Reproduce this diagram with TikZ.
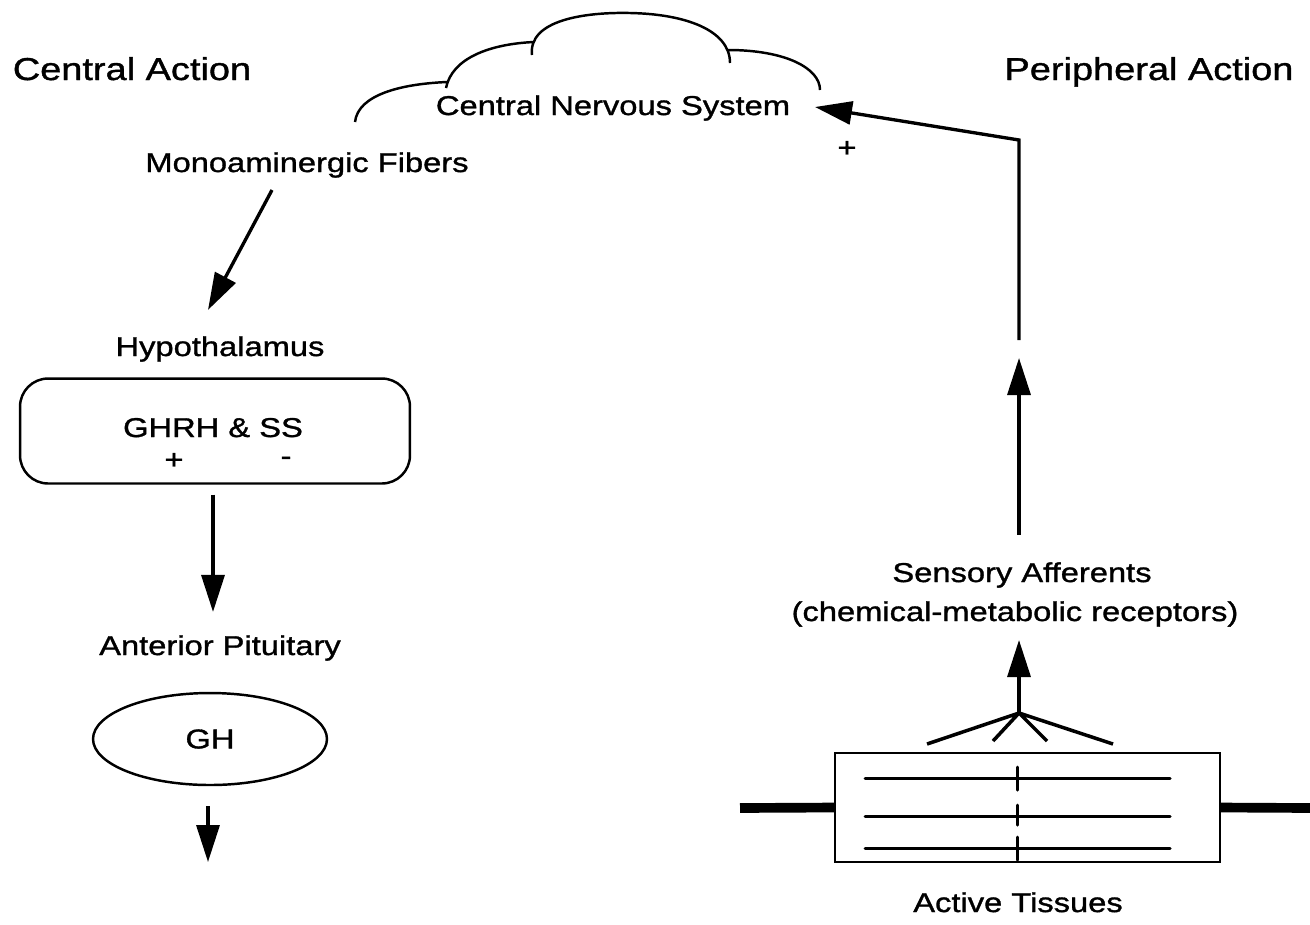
\documentclass[tikz,border=0pt]{standalone}
\usepackage{fontspec}
\setmainfont{Liberation Sans}[FakeStretch=1.2, FakeBold=1.2]
\usepackage{tikz}
\usetikzlibrary{
  arrows.meta,
  positioning,
  shapes.geometric
}
\tikzset{
    heading/.style={font=\fontsize{18}{21}\selectfont, inner sep=0pt},
    txt/.style={font=\fontsize{15.5}{18}\selectfont, inner sep=0pt},
    arr/.style={line width=1.9pt, -{Triangle[length=0.74cm, width=0.46cm]}},
    thinline/.style={line width=1.4pt},
    fibre/.style={line width=1.7pt, line cap=round},
}

\begin{document}
\begin{tikzpicture}[x=0.02cm, y=-0.02cm]
            \useasboundingbox (0,0) rectangle (1310,924);

            % titles of the two halves
            \node[heading, anchor=base] (central) at (132,80) {Central Action};
            \node[heading, anchor=base] (peripheral) at (1149,80) {Peripheral Action};

            % brain cloud
            \draw[thinline] (355,122) .. controls (358,95) and (400,84) .. (447,82)
                (446,88) .. controls (452,58) and (490,44) .. (534,42)
                (532,55) .. controls (528,20) and (585,12) .. (630,13)
                    .. controls (685,14) and (730,30) .. (730,63)
                (728,50) .. controls (785,50) and (820,68) .. (820,90);
            \node[txt, anchor=base] (cns) at (613,115) {Central Nervous System};

            % central pathway
            \node[txt, anchor=base] (fibers) at (307,172) {Monoaminergic Fibers};
            \node[txt, anchor=base] (hypo) at (220,356) {Hypothalamus};
            \node[draw, thinline, rounded corners=16pt, minimum width=7.8cm, minimum height=2.1cm] (ghrh) at (215,431) {};
            \node[txt, anchor=base] (ghrhtxt) at (213,437) {GHRH \& SS};
            \node[txt] (plus) at (174,461) {+};
            \node[txt] (minus) at (286,461) {-};
            \node[txt, anchor=base] (pit) at (220,655) {Anterior Pituitary};
            \node[draw, thinline, ellipse, minimum width=4.68cm, minimum height=1.84cm, txt] (gh) at (210,739) {GH};
            \coordinate (ghend) at (208,862);

            \draw[arr] ([xshift=-0.7cm, yshift=-0.24cm]fibers.south) -- ([xshift=-0.24cm, yshift=0.52cm]hypo.north);
            \draw[arr, shorten <=0.2cm, shorten >=0.46cm] (ghrh.south -| ghrhtxt) -- (pit.north -| ghrhtxt);
            \draw[arr, shorten <=0.4cm] (gh.south -| ghend) -- (ghend);

            % peripheral pathway
            \node[txt, anchor=base] (aff) at (1022,582) {Sensory Afferents};
            \node[txt, anchor=base] (rec) at (1015,621) {(chemical-metabolic receptors)};
            \coordinate (apex) at (1019,713);
            \coordinate (gap) at (1019,358);
            \coordinate (gaptop) at (1019,340);
            \coordinate (corner) at (1019,140);
            \coordinate (cnsin) at (815,107);
            \node[txt] (cnsplus) at (847,149) {+};

            \draw[arr, shorten >=0.26cm] (apex) -- (rec.south -| apex);
            \draw[arr, shorten <=0.54cm] (aff.north -| apex) -- (gap);
            \draw[arr, line join=miter] (gaptop) -- (corner) -- (cnsin);

            % muscle with its receptor endings
            \node[draw, thinline, minimum width=7.7cm, minimum height=2.18cm] (muscle) at (1027.5,807.5) {};
            \draw[line width=5.5pt] (740,808) -- (muscle.west);
            \draw[line width=5.5pt] (muscle.east) -- (1310,808);
            \foreach \y in {778,816,848}
                \draw[fibre] (865,\y) -- (1170,\y);
            \draw[fibre] (1017,767) -- (1017,790)
                (1017,805) -- (1017,825)
                (1017,837) -- (1017,860);
            \draw[line width=2pt] (927,744) -- (apex) -- (1113,744)
                (993,741) -- (apex) -- (1047,741);
            \node[txt, anchor=base] (tissues) at (1018,912) {Active Tissues};
        \end{tikzpicture}
\end{document}
